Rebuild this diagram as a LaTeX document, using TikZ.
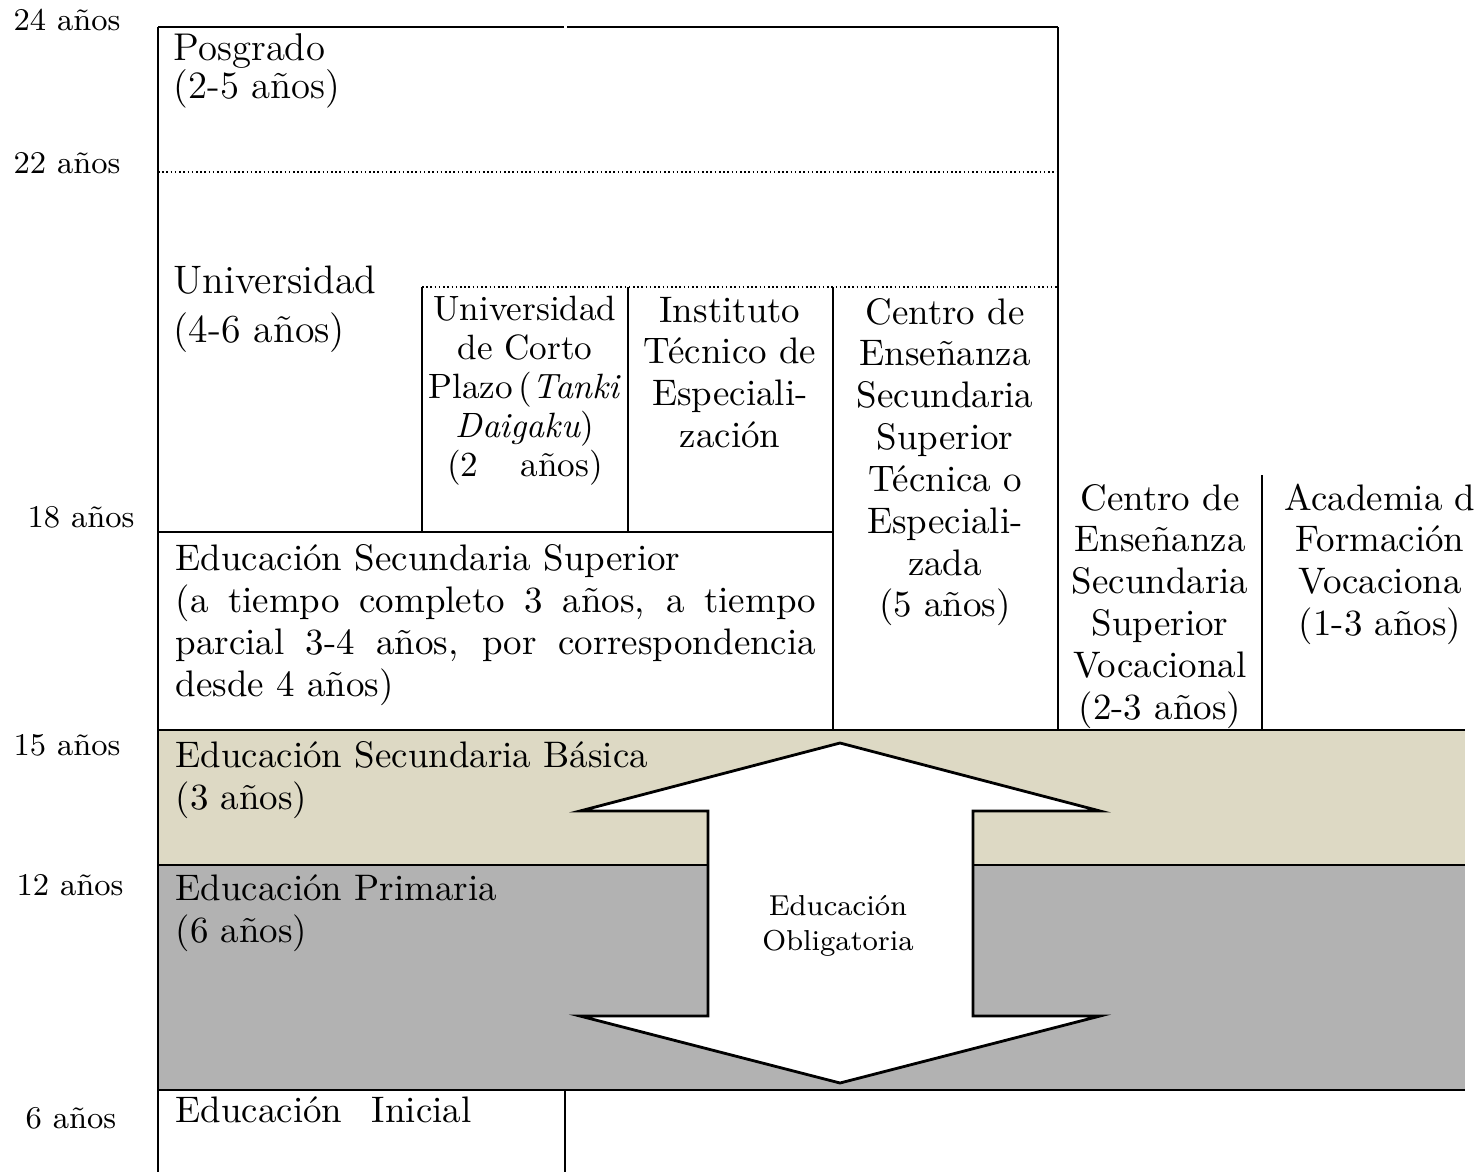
\documentclass[tikz,border=0pt]{standalone}
\usepackage{fontspec}
\usepackage{tikz}
\definecolor{tan}{HTML}{DDD9C4}
\definecolor{gris}{HTML}{B2B2B2}
\tikzstyle{linea}=[draw,line width=0.7pt]
\tikzstyle{puntos}=[draw,line width=0.45pt,dash pattern=on 0.45pt off 0.75pt]
\tikzstyle{edad}=[font=\fontsize{9}{10}\selectfont,inner sep=0pt,anchor=base west]
\tikzstyle{texto}=[font=\fontsize{10.5}{12}\selectfont,inner sep=0pt,align=left,anchor=base west]
\tikzstyle{celda}=[font=\fontsize{10.5}{11.9}\selectfont,inner sep=0pt,align=center,anchor=base]
\tikzstyle{flecha}=[draw,fill=white,line width=0.8pt]

\begin{document}
\begin{tikzpicture}[x=0.01cm,y=-0.01cm]
\useasboundingbox (0,0) rectangle (1478,1172);

% First we draw the coloured bands
\fill[tan] (158,730) rectangle (1465,865);
\fill[gris] (158,865) rectangle (1465,1090);

% Then the frame of the table
\foreach \a/\b in {{(158,27)/(158,1172)}, {(158,27)/(564,27)}, {(567,27)/(1058,27)},
                   {(1058,27)/(1058,730)}, {(422,287)/(422,532)}, {(628,287)/(628,532)},
                   {(833,287)/(833,730)}, {(158,532)/(833,532)}, {(1262,475)/(1262,730)},
                   {(158,730)/(1465,730)}, {(158,865)/(1465,865)}, {(158,1090)/(1465,1090)},
                   {(565,1090)/(565,1172)}}
  \path[linea] \a -- \b;

\foreach \a/\b in {{(158,172)/(564,172)}, {(567,172)/(1058,172)}, {(422,287)/(1058,287)}}
  \path[puntos] \a -- \b;

% The double arrow
\path[flecha] (840,743) -- (1100,811) -- (973,811) -- (973,1016) -- (1100,1016)
  -- (840,1083) -- (580,1016) -- (708,1016) -- (708,811) -- (580,811) -- cycle;

% Ages on the left
\foreach \x/\y/\n in {13/30/24, 13/173/22, 27/527/18, 13/755/15, 16/895/12, 25/1128/6}
  \node[edad] (e\n) at (\x,\y) {\n{} años};

% Labels of the boxes
\node[texto,font=\fontsize{11}{11}\selectfont,text width=4cm] (posgrado) at (173,60) {Posgrado\\(2-5 años)};
\node[texto,font=\fontsize{11.3}{14}\selectfont,text width=3cm] (univ) at (173,293) {Universidad\\(4-6 años)};
\node[celda,font=\fontsize{10}{11.1}\selectfont,text width=2.3cm] (tanki) at (525,320)
  {Universidad\\de Corto\\Plazo\,(\textit{Tanki}\\\textit{Daigaku})\\(2\hspace{1.2em}años)};
\node[celda,text width=2.05cm] (instituto) at (730,322) {Instituto\\Técnico de\\Especiali-\\zación};
\node[celda,text width=2.25cm] (tecnica) at (945,324)
  {Centro de\\Enseñanza\\Secundaria\\Superior\\Técnica o\\Especiali-\\zada\\(5 años)};
\node[celda,text width=2.04cm] (vocacional) at (1160,510)
  {Centro de\\Enseñanza\\Secundaria\\Superior\\Vocacional\\(2-3 años)};
\node[celda,text width=2.2cm] (academia) at (1380,510) {Academia d\\Formación\\Vocaciona\\(1-3 años)};
\node[texto,text width=6.4cm,align=justify] (superior) at (175,570)
  {Educación Secundaria Superior\\(a tiempo completo 3 años, a tiempo\linebreak parcial 3-4 años, por correspondencia\linebreak desde 4 años)};
\node[texto,text width=6cm] (basica) at (175,767) {Educación Secundaria Básica\\(3 años)};
\node[texto,text width=4cm] (primaria) at (175,900) {Educación Primaria\\(6 años)};
\node[celda,font=\fontsize{8.2}{10}\selectfont,text width=2.4cm] (obligatoria) at (838,915) {Educación\\Obligatoria};
\node[texto,text width=4cm] (inicial) at (175,1122) {Educación\hspace{0.8em}Inicial};

\end{tikzpicture}
\end{document}
